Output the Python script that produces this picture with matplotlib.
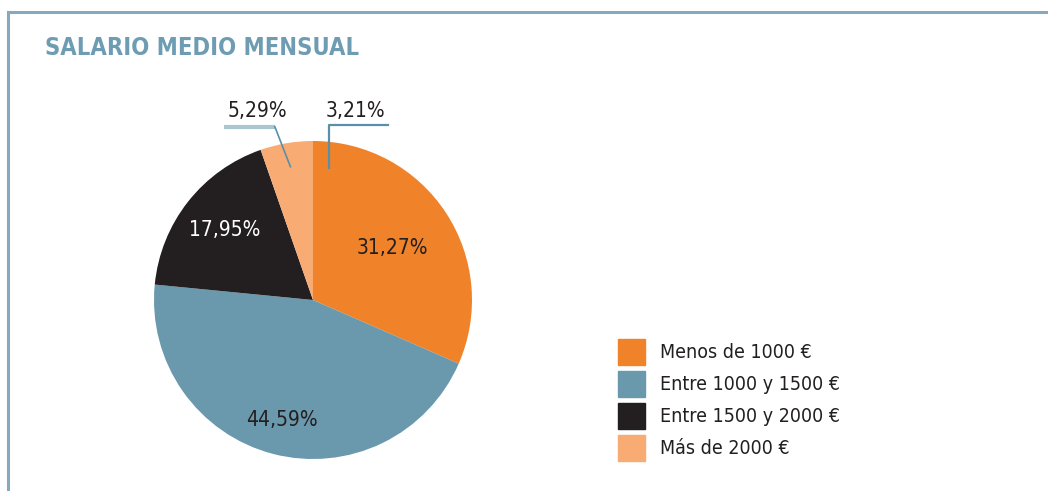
import matplotlib
matplotlib.use("Agg")
import matplotlib.pyplot as plt
import numpy as np
from matplotlib.lines import Line2D
from matplotlib.patches import Rectangle

title = "SALARIO MEDIO MENSUAL"
categories = ["Menos de 1000 €", "Entre 1000 y 1500 €", "Entre 1500 y 2000 €", "Más de 2000 €"]
values = [31.27, 44.59, 17.95, 5.29]
labels = ["31,27%", "44,59%", "17,95%", "5,29%"]
extra_label = "3,21%"
colors = ["#f0832a", "#6a98ac", "#231f20", "#f8ab73"]
label_colors = ["#231f20", "#231f20", "#ffffff", "#231f20"]

plt.rcParams['font.family'] = ["DejaVu Sans"]
plt.rcParams['font.stretch'] = "condensed"

W, H = 1048, 491
fig = plt.figure(figsize=(W / 100, H / 100), dpi=100)
fig.patch.set_facecolor("white")

# frame lines
frame_col = "#86aabb"
fig.add_artist(Line2D([8 / W, 1.0], [1 - 12 / H, 1 - 12 / H], color=frame_col, lw=2.2,
                      transform=fig.transFigure))
fig.add_artist(Line2D([8 / W, 8 / W], [0, 1 - 12 / H], color=frame_col, lw=2.2,
                      transform=fig.transFigure))

fig.text(45 / W, 1 - 48 / H, title, color="#6e9cb2", fontsize=17, fontweight="bold",
         va="center", ha="left")

# pie axes
cx, cy, r = 313, 300, 159
ax = fig.add_axes([(cx - r) / W, (H - cy - r) / H, 2 * r / W, 2 * r / H])
ax.set_xlim(-1, 1)
ax.set_ylim(-1, 1)
ax.axis("off")
wedges, _ = ax.pie(values, colors=colors, startangle=90, counterclock=False, radius=1,
                   wedgeprops=dict(linewidth=0))
ax.set_xlim(-1, 1)
ax.set_ylim(-1, 1)

dists = [0.6, 0.78, 0.71]
for i in range(3):
    w = wedges[i]
    ang = np.deg2rad((w.theta1 + w.theta2) / 2)
    ax.text(dists[i] * np.cos(ang), dists[i] * np.sin(ang), labels[i], color=label_colors[i],
            fontsize=15, ha="center", va="center")

# leader for 5,29%
w = wedges[3]
ang = np.deg2rad((w.theta1 + w.theta2) / 2)
px, py = 0.85 * np.cos(ang), 0.85 * np.sin(ang)
ax.plot([-0.56, -0.24], [1.09, 1.09], color="#a9c6d3", lw=3, clip_on=False, solid_capstyle="butt")
ax.plot([-0.24, px], [1.09, py], color="#5b8ea7", lw=1.2, clip_on=False)
ax.text(-0.35, 1.19, labels[3], color="#231f20", fontsize=15, ha="center", va="center")

# leader for 3,21%
ax.plot([0.47, 0.1, 0.1], [1.1, 1.1, 0.83], color="#5b8ea7", lw=1.6, clip_on=False)
ax.text(0.27, 1.19, extra_label, color="#231f20", fontsize=15, ha="center", va="center")

# legend
for i, (cat, col) in enumerate(zip(categories, colors)):
    y0 = 339 + i * 32
    fig.add_artist(Rectangle((618 / W, 1 - (y0 + 26) / H), 27 / W, 26 / H, color=col,
                             transform=fig.transFigure))
    fig.text(660 / W, 1 - (y0 + 14) / H, cat, color="#231f20", fontsize=14,
             ha="left", va="center")

fig.savefig("out.png", dpi=100, facecolor="white")
